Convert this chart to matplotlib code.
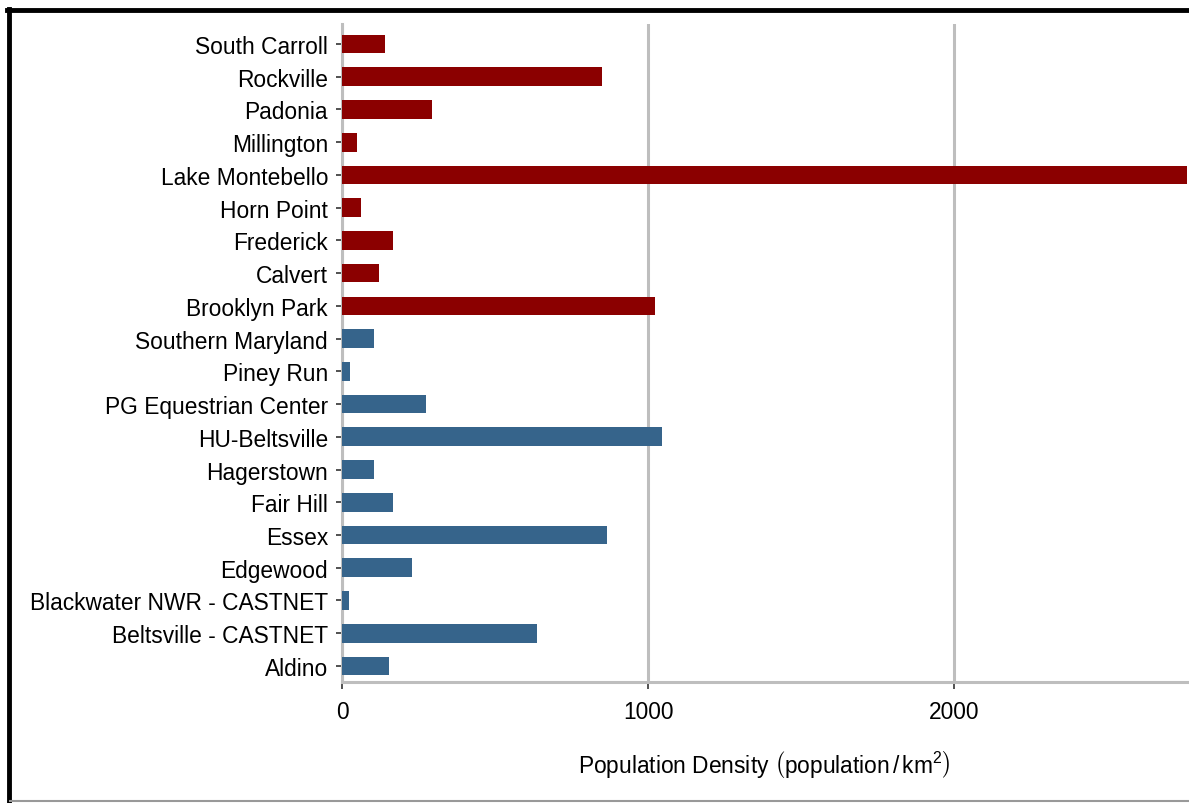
import matplotlib.pyplot as plt
from matplotlib.lines import Line2D

# monitoring sites, listed bottom to top as they appear on the axis
sites = ["Aldino", "Beltsville - CASTNET", "Blackwater NWR - CASTNET", "Edgewood",
         "Essex", "Fair Hill", "Hagerstown", "HU-Beltsville", "PG Equestrian Center",
         "Piney Run", "Southern Maryland", "Brooklyn Park", "Calvert", "Frederick",
         "Horn Point", "Lake Montebello", "Millington", "Padonia", "Rockville",
         "South Carroll"]
density = [154, 637, 23, 229, 866, 167, 105, 1046, 275, 26, 105,
           1023, 121, 167, 62, 2800, 49, 294, 850, 140]
group = ["blue"] * 11 + ["red"] * 9
group_colors = {"blue": "#36648B", "red": "#8B0000"}
xticks = [0, 1000, 2000]

font = "Liberation Sans"
plt.rcParams["font.family"] = [font, "DejaVu Sans"]
plt.rcParams["mathtext.fontset"] = "custom"
plt.rcParams["mathtext.rm"] = font
plt.rcParams["mathtext.it"] = font + ":italic"
plt.rcParams["mathtext.sf"] = font
fsize = 16.4

fig = plt.figure(figsize=(11.89, 8.04), dpi=100)
ax = fig.add_axes([0.2876, 0.1505, 0.7107, 0.8184])

ax.barh(range(len(sites)), density, height=0.57,
        color=[group_colors[g] for g in group], zorder=3)

ax.set_xlim(0, 2761)
ax.set_ylim(-0.49, len(sites) - 1 + 0.61)
ax.set_yticks(range(len(sites)))
ax.set_yticklabels(sites)
ax.set_xticks(xticks)
ax.set_xticklabels([str(t) for t in xticks])

ax.grid(axis="x", color="#bebebe", linewidth=2.2, zorder=0)
for side in ["top", "right"]:
    ax.spines[side].set_visible(False)
for side in ["left", "bottom"]:
    ax.spines[side].set_color("#bebebe")
    ax.spines[side].set_linewidth(2.2)

ax.tick_params(axis="y", length=4, width=1.2, color="#333333", pad=6,
               labelsize=fsize, labelcolor="black")
ax.tick_params(axis="x", length=5, width=1.2, color="#333333", pad=8,
               labelsize=fsize, labelcolor="black")

ax.set_xlabel(r"Population Density $\left(\mathrm{population}\,/\,\mathrm{km}^{2}\right)$",
              fontsize=fsize, labelpad=18)

# frame around the figure: heavy black on the left and top, thin grey at the bottom
fig.add_artist(Line2D([0.0075, 0.0075], [0.002, 0.987], color="black", linewidth=3.5,
                      transform=fig.transFigure))
fig.add_artist(Line2D([0.0060, 1.0], [0.986, 0.986], color="black", linewidth=3.5,
                      transform=fig.transFigure))
fig.add_artist(Line2D([0.008, 1.0], [0.0025, 0.0025], color="#999999", linewidth=1.5,
                      transform=fig.transFigure))

fig.savefig("out.png", dpi=100)
